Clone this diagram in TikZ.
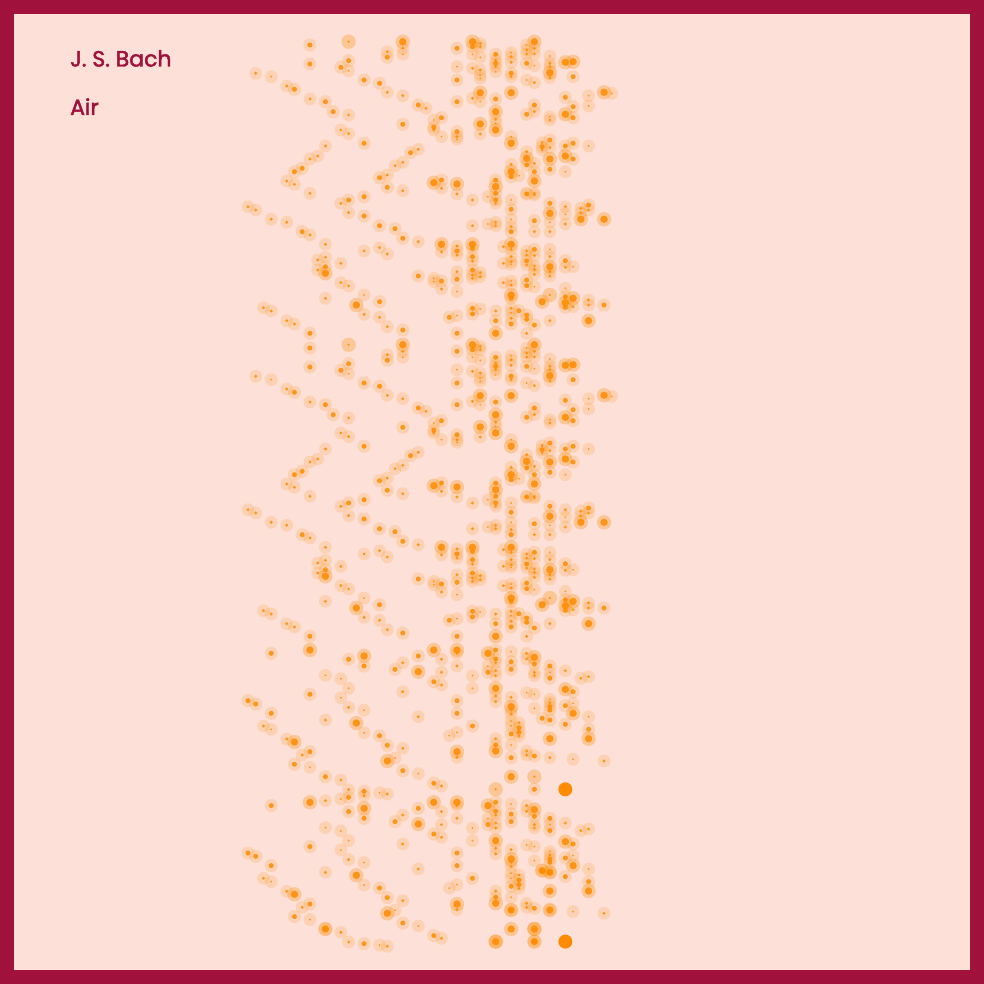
\documentclass[tikz,border=0pt]{standalone}
\usepackage{fontspec}
\setmainfont{Poppins}
\newfontfamily\headfont{Poppins}[FakeBold=2]
\definecolor{bachred}{HTML}{A0123C}
\definecolor{paper}{HTML}{FDE0D8}
\definecolor{dotorange}{HTML}{FF8C00}
\tikzset{
  halo/.style={fill=dotorange, fill opacity=0.17},
  bighalo/.style={fill=dotorange, fill opacity=0.3},
  core/.style={fill=dotorange, fill opacity=0.85},
  heading/.style={anchor=base west, inner sep=0, text=bachred, font=\headfont\fontsize{22}{26}\selectfont},
}
% one note: pitch step, time (px from top), size class
\newcommand{\airnote}[3]{%
  \pgfmathsetmacro{\nx}{248+7.74*#1}%
  \ifcase#3\or
    \fill[halo] (\nx,#2) circle (6.4pt); \fill[core] (\nx,#2) circle (1pt);
  \or
    \fill[halo] (\nx,#2) circle (6.4pt); \fill[core] (\nx,#2) circle (1.6pt);
  \or
    \fill[halo] (\nx,#2) circle (6.6pt); \fill[core] (\nx,#2) circle (2.5pt);
  \or
    \fill[bighalo] (\nx,#2) circle (7.2pt); \fill[core] (\nx,#2) circle (3.7pt);
  \or
    \fill[dotorange] (\nx,#2) circle (7pt);
  \or
    \fill[bighalo] (\nx,#2) circle (7.2pt); \fill[core] (\nx,#2) circle (1.3pt);
  \fi}

\begin{document}
\begin{tikzpicture}[x=1pt, y=-1pt]
    \useasboundingbox (0,0) rectangle (984,984);
    \fill[bachred] (0,0) rectangle (984,984);
    \fill[paper] (14,14) rectangle (970,970);

    \node[heading] (composer) at (70,66.5) {J. S. Bach};
    \node[heading] (piece) at (70,115) {Air};

    % first part, played twice
    \foreach \off in {0,303} {
      \foreach \k/\y/\s in {
        8/45/3,13/41.7/6,20/41.7/4,8/64/3,1/73.3/2,3/76.7/1,5/86/2,6/89.3/3,13/60.7/3,12/67.3/3,
        13/70.7/1,18/51.7/2,18/57.3/3,20/48.3/2,20/54.3/1,15/80/3,17/83.3/3,18/92.3/2,20/95.7/2,
        8/99/2,10/101.7/3,11/111.7/3,13/115/2,20/124.3/3,22/105/3,23/108.3/2,12/130/2,13/133.7/2,
        15/143.3/3,10/146/2,9/156/2,8/159/2,7/168.3/3,6/171.7/3,5/181/2,6/184.3/2,8/193.3/2,
        22/149.3/2,21/152.7/3,20/162.3/2,19/165.7/2,18/175/2,17/177.7/3,18/187.3/3,20/190.7/2,
        0/206.7/2,1/210/2,3/219.3/2,5/222.3/2,7/231.7/3,8/235/2,10/244.3/2,12/203.3/2,13/200/3,
        13/212.7/2,15/196.7/3,15/216/3,17/225.7/3,19/228.7/3,20/238.3/3,22/241.7/2,9/260/2,
        10/257.3/2,10/266.7/3,9/270/2,10/273.3/4,12/263.3/2,15/251/2,17/247.7/2,18/254/2,22/276/3,
        12/282.7/2,13/286/2,10/298.3/2,15/295/1,14/305/4,15/314.3/2,17/301.7/3,17/317.3/2,
        18/326.7/2,20/330/3,2/307.7/2,3/311/2,5/320.7/2,6/324/2,8/333.3/3,
        29/41.7/4,29/46.7/3,30/46.7/2,30/43.5/2,27/48.3/3,29/54.3/1,30/57.3/1,32/54.3/3,32/60/2,
        32/63.3/3,32/66.7/2,32/71.7/1,34/52.7/1,34/56.7/2,34/62.3/2,34/73.3/3,34/76.7/2,37/41.7/4,
        36/45/1,36/50/2,36/54/2,37/48.3/2,37/54/2,36/63.3/3,37/65.7/1,39/56/1,39/63.3/2,39/66.7/2,
        39/72.7/4,39/77.7/2,41/62.3/4,42/61.7/4,42/76.7/3,27/66.7/1,29/68.3/2,30/70/2,30/75/1,
        30/78.3/1,27/80/3,36/80/1,37/82.7/2,30/92.7/4,29/98.3/2,30/101.7/1,27/101.7/3,34/92.7/4,
        32/99/3,32/111.7/4,32/119.3/2,32/123.3/1,32/130/4,24/120/1,25/117.7/3,24/127.3/3,24/130/2,
        25/136.7/1,27/131.7/3,27/136.7/2,27/139.3/1,30/124/4,30/134/2,34/136.7/1,34/143.3/4,
        36/114.3/3,37/105/3,37/111.7/2,39/116.7/1,39/120/2,41/97.3/3,42/106.7/3,44/95.7/1,44/106/1,
        46/92.3/4,47/93.3/1,41/114.3/4,42/117.7/3,38/142.7/2,38/146.7/3,38/150/2,39/140/3,
        39/147.7/2,39/159/4,39/169.3/3,41/146/3,41/156/4,42/143.3/3,42/159/3,44/146/1,36/151.7/2,
        36/158.3/4,36/165/3,37/163.3/2,37/171.7/3,37/181/4,34/164.3/2,34/171.7/4,34/176.7/3,
        35/175.7/1,37/193.3/2,36/193.3/2,41/171.7/1,32/180/3,32/186.7/4,32/193.3/3,27/184/4,
        24/182.7/4,25/180/3,25/188.3/2,27/194/2,
        29/200/2,31/196.7/1,32/200/3,32/203.3/2,34/200/1,34/209.3/3,34/219.3/1,34/226.7/2,
        34/231.7/3,36/194/3,37/195/2,39/203.3/3,39/213.3/4,39/222.3/1,39/231.7/2,37/220.7/3,
        37/231.7/2,41/206.7/2,41/214.3/1,41/224/2,43/208.3/2,43/212.7/2,43/219.3/4,44/205/3,
        44/210/2,46/219.3/4,29/225.7/2,31/224/1,32/222.3/2,32/225.7/2,25/244.3/4,25/252/2,
        27/246/2,27/251/3,27/255/2,29/244.3/4,29/248.3/3,29/256.7/3,29/261/2,33/246.7/2,
        34/244.3/4,34/249.3/2,34/256.7/2,34/261.7/2,34/264.3/1,33/263.3/2,36/251/2,36/255/2,
        36/261/3,36/265/2,37/249.3/3,37/255.7/2,37/266/2,37/269.3/2,37/274.3/2,39/249.3/1,
        39/256.7/2,39/266.7/4,39/271.7/2,39/276/2,41/260.7/3,41/267.3/2,42/266.7/1,27/271.7/2,
        27/279.3/3,27/291.7/1,29/270/3,29/275/2,29/278.3/2,30/272.7/2,30/276.7/2,24/278.3/1,
        24/281.7/1,25/281/3,25/289/2,33/282.7/2,34/281/1,34/285/2,34/295/4,34/298.3/3,36/280/3,
        36/285.7/3,37/286.7/1,38/301.7/4,39/295/6,41/288.3/1,41/296.7/3,41/302.7/4,41/307.3/3,
        42/298.3/4,42/306.7/2,44/300/2,44/305/2,46/305/3,44/320.7/4,26/317.3/3,27/315.7/1,
        29/308.3/3,29/314/3,30/309/1,32/311/2,32/320.7/3,34/308.3/2,34/312.7/1,34/318.3/2,
        34/324/3,35/310.7/3,36/315/3,36/319.3/3,37/325/3,39/320.7/2,27/333.3/3,32/333.3/4,36/333.3/2
      } {\airnote{\k}{\y+\off}{\s}}
    }

    % second part, played twice
    \foreach \off in {0,152.3} {
      \foreach \k/\y/\s in {
        3/653.3/3,8/650/4,13/659.3/3,15/656/4,15/666/3,19/669.3/3,20/662.7/2,22/656/3,22/671.7/4,
        10/675.3/1,12/678.7/1,13/688.3/1,12/697.7/1,13/707.3/2,15/710.3/1,8/694.3/3,20/691.7/2,
        22/716.7/2,0/700.7/3,1/704/3,3/713.3/3,10/720/2,14/723/4,15/732.7/1,17/735.7/3,18/745.3/3,
        20/748.3/2,2/726/2,3/729.3/1,5/739/2,6/742/4,7/755/2,8/751.7/3,6/764.3/3,8/767.3/1,
        18/761/4,19/758/1,20/770.7/3,22/773.7/1,10/776.7/3,12/780/2,13/789.7/2,15/791.3/3,
        17/792.7/1,18/794/2,
        24/650/4,27/650/4,27/653.3/2,25/659.3/2,25/672.3/2,24/681.7/3,25/685/2,27/666/2,
        29/675.7/1,29/688.3/1,31/653.3/4,31/666/1,31/672.3/3,32/650/3,32/659/3,32/662.7/2,
        32/670.7/2,32/675.7/2,32/688.3/4,32/696/2,32/701.7/2,34/651.7/1,34/661.7/3,34/669.3/3,
        36/653.3/2,36/659/2,37/657.3/4,37/664/3,37/672.3/2,37/675.7/2,39/666/3,39/672.3/1,
        39/678.3/3,41/670.7/2,43/678.3/2,44/676.7/2,41/689.3/4,42/691.7/3,36/692.7/1,37/694.3/1,
        34/697.3/2,27/700.7/3,27/713.3/3,34/706.7/4,34/710/2,34/714/2,37/708.3/1,39/699.3/1,
        39/702.7/2,39/706.7/3,39/710/3,39/720/3,38/718.3/3,41/705.7/3,42/703.3/1,42/713.3/4,
        44/716.7/1,41/724.3/3,44/729.3/3,44/738.7/4,39/738.7/4,29/726/3,26/735.7/1,27/732.3/1,
        34/721/1,34/726/1,34/734/3,35/722.7/2,35/727.7/3,35/732.3/3,35/736/2,32/738.7/2,
        32/745/3,32/751/4,34/745/1,34/757.7/3,27/751.7/4,27/757.3/2,36/751/2,36/755/2,37/756/3,
        39/757.7/2,42/759.3/1,46/761/2,34/776.7/4,37/776.7/6,24/783.3/3,25/786/2,32/789.3/6,
        37/789.3/3,41/789.3/5
      } {\airnote{\k}{\y+\off}{\s}}
    }

    % lead-in back to the repeat, and the longer closing notes
    \foreach \k/\y/\s in {15/795.7/2,13/797.3/3,12/799/1,10/800.7/2,10/929/4,
        38/870.6/4,39/872.3/4,34/910/4,39/910/4,37/929/4,32/941.6/4,37/941.6/4} {
      \airnote{\k}{\y}{\s}
    }
\end{tikzpicture}
\end{document}
